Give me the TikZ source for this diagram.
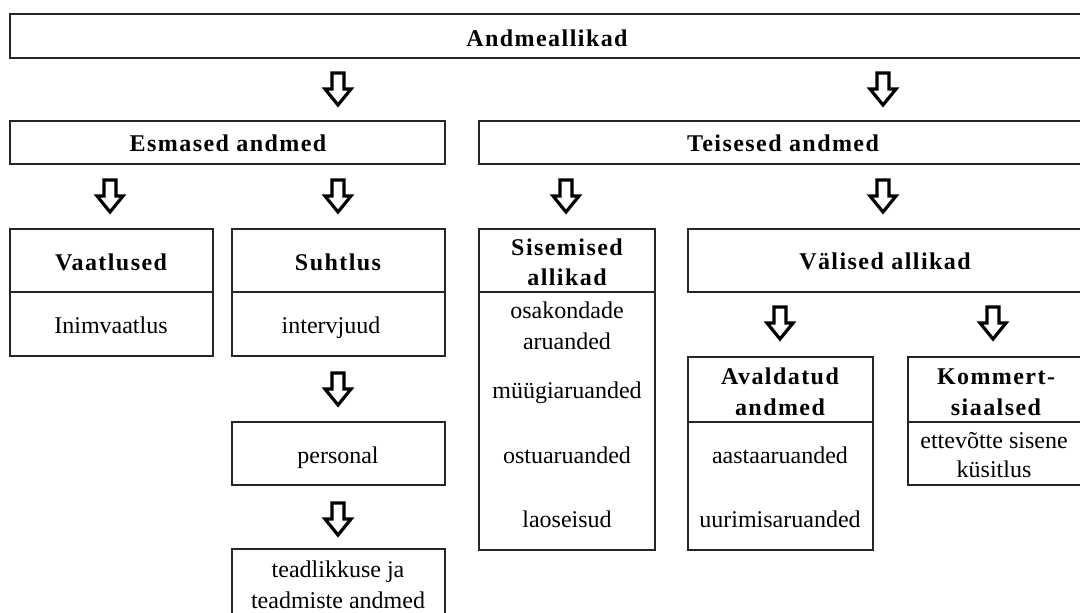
\documentclass[tikz,border=0pt]{standalone}
\usepackage{fontspec}
\setmainfont{Liberation Serif}
\newfontfamily\hdfont{Liberation Serif}[LetterSpace=6]
\usetikzlibrary{fit}

\tikzset{
  box/.style={draw=black!85, line width=0.9pt, inner sep=0pt, fill=none},
  hd/.style={font=\fontsize{18}{23}\hdfont\bfseries, align=center, inner sep=0pt,
    text height=12pt, text depth=0pt},
  tx/.style={font=\fontsize{18}{23}\selectfont, align=center, inner sep=0pt,
    text height=12pt, text depth=0pt},
  arrowline/.style={draw=black, fill=white, line width=2.4pt, line join=miter},
  downarrow/.pic={
    \draw[arrowline] (-6,0) -- (6,0) -- (6,16) -- (13,16) -- (0,32)
      -- (-13,16) -- (-6,16) -- cycle;
  }
}

\begin{document}
\begin{tikzpicture}[x=0.75pt, y=-0.75pt]
  \useasboundingbox (0,0) rectangle (1080,612);
  \clip (0,0) rectangle (1080,612);

  % top level
  \node[box, fit={(10,14) (1085,58)}] (root) {};
  \node[hd] (rootT) at (547,38) {Andmeallikad};

  % primary / secondary data
  \node[box, fit={(10,121) (445,164)}] (prim) {};
  \node[hd] (primT) at (228,143) {Esmased andmed};
  \node[box, fit={(479,121) (1087,164)}] (sec) {};
  \node[hd] (secT) at (783,143) {Teisesed andmed};

  % observations
  \node[box, fit={(10,229) (213,292)}] (obsH) {};
  \node[box, fit={(10,292) (213,356)}] (obsB) {};
  \node[hd] (obsT) at (111,262) {Vaatlused};
  \node[tx] (obs1) at (111,325) {Inimvaatlus};

  % communication
  \node[box, fit={(232,229) (445,292)}] (comH) {};
  \node[box, fit={(232,292) (445,356)}] (comB) {};
  \node[hd] (comT) at (338,262) {Suhtlus};
  \node[tx] (com1) at (331,325) {intervjuud};
  \node[box, fit={(232,422) (445,485)}] (pers) {};
  \node[tx] (persT) at (338,455) {personal};
  \node[box, fit={(232,549) (445,640)}] (know) {};
  \node[tx] (know1) at (338,569) {teadlikkuse ja};
  \node[tx] (know2) at (338,600) {teadmiste andmed};

  % internal sources
  \node[box, fit={(479,229) (655,292)}] (intH) {};
  \node[box, fit={(479,292) (655,550)}] (intB) {};
  \node[hd] (int1) at (567,247) {Sisemised};
  \node[hd] (int2) at (567,277) {allikad};
  \node[tx] (intA) at (567,310) {osakondade};
  \node[tx] (intB1) at (567,341) {aruanded};
  \node[tx] (intC) at (567,390) {müügiaruanded};
  \node[tx] (intD) at (567,455) {ostuaruanded};
  \node[tx] (intE) at (567,519) {laoseisud};

  % external sources
  \node[box, fit={(688,229) (1084,292)}] (ext) {};
  \node[hd] (extT) at (885,261) {Välised allikad};

  % published data
  \node[box, fit={(688,357) (873,422)}] (pubH) {};
  \node[box, fit={(688,422) (873,550)}] (pubB) {};
  \node[hd] (pub1) at (780,376) {Avaldatud};
  \node[hd] (pub2) at (780,407) {andmed};
  \node[tx] (pubA) at (780,455) {aastaaruanded};
  \node[tx] (pubB1) at (780,519) {uurimisaruanded};

  % commercial data
  \node[box, fit={(908,357) (1085,422)}] (comrH) {};
  \node[box, fit={(908,422) (1085,485)}] (comrB) {};
  \node[hd] (comr1) at (996,376) {Kommert-};
  \node[hd] (comr2) at (996,407) {siaalsed};
  \node[tx] (comrA) at (994,440) {ettevõtte sisene};
  \node[tx] (comrB1) at (994,469) {küsitlus};

  % block arrows
  \pic at (338,73) {downarrow};
  \pic at (883,73) {downarrow};
  \pic at (110,180) {downarrow};
  \pic at (338,180) {downarrow};
  \pic at (566,180) {downarrow};
  \pic at (883,180) {downarrow};
  \pic at (780,307) {downarrow};
  \pic at (993,307) {downarrow};
  \pic at (338,373) {downarrow};
  \pic at (338,503) {downarrow};
\end{tikzpicture}
\end{document}
